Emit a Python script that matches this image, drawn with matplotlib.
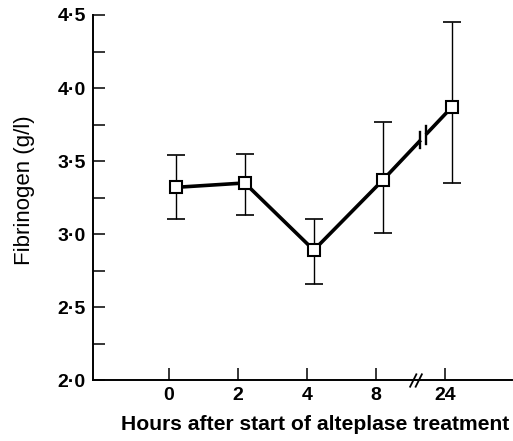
import numpy as np
from matplotlib import pyplot as plt
from matplotlib.ticker import MultipleLocator

# hours after start of treatment (categorical axis, 8 -> 24 is broken)
hours = ['0', '2', '4', '8', '24']
fib_mean = [3.32, 3.35, 2.89, 3.37, 3.87]
fib_upper = [3.54, 3.55, 3.10, 3.77, 4.45]
fib_lower = [3.10, 3.13, 2.66, 3.01, 3.35]

pos = np.arange(len(hours))
mean = np.array(fib_mean)
err = [mean - np.array(fib_lower), np.array(fib_upper) - mean]

plt.rcParams['font.family'] = ['Liberation Sans', 'DejaVu Sans']

fig = plt.figure(figsize=(5.13, 4.41), dpi=100)
ax = fig.add_axes([0.181, 0.138, 0.817, 0.828])

ax.errorbar(pos, mean, yerr=err, fmt='none', ecolor='black', elinewidth=1.0,
            capsize=6.5, capthick=1.2, zorder=2)
ax.plot(pos, mean, color='black', lw=2.6, zorder=3)
ax.plot(pos, mean, ls='none', marker='s', ms=8, mfc='white', mec='black',
        mew=1.5, zorder=4)

# break marks on the line between 8 and 24
bx = 3.58
by = mean[3] + (mean[4] - mean[3]) * (bx - 3)
ax.plot([bx - 0.03, bx + 0.04], [by - 0.018, by + 0.024], color='white',
        lw=5, zorder=3.5, solid_capstyle='butt')
ax.plot([bx - 0.035, bx - 0.035], [by - 0.07, by + 0.04], color='black', lw=1.7, zorder=3.6)
ax.plot([bx + 0.045, bx + 0.045], [by - 0.04, by + 0.08], color='black', lw=1.7, zorder=3.6)

# break marks on the x axis
for dx in (3.44, 3.52):
    ax.plot([dx - 0.045, dx + 0.045], [1.955, 2.04], color='black', lw=1.3,
            clip_on=False, zorder=5)

ax.set_xlim(-1.2, 4.87)
ax.set_ylim(2.0, 4.5)

ax.set_xticks(pos - 0.1)
ax.set_xticklabels(hours)
ax.yaxis.set_minor_locator(MultipleLocator(0.25))
yt = np.arange(2.0, 4.51, 0.5)
ax.set_yticks(yt)
ax.set_yticklabels([f'{v:.1f}'.replace('.', '\u00b7') for v in yt])

ax.tick_params(which='both', direction='in', length=8.5, width=1.1, color='black')
ax.tick_params(axis='x', labelsize=14, pad=5)
ax.tick_params(axis='y', labelsize=14, pad=5)
for lab in ax.get_xticklabels() + ax.get_yticklabels():
    lab.set_fontweight('bold')

for s in ('top', 'right'):
    ax.spines[s].set_visible(False)
for s in ('left', 'bottom'):
    ax.spines[s].set_linewidth(1.4)

ax.set_xlabel('Hours after start of alteplase treatment', fontsize=15.2,
              fontweight='bold')
ax.xaxis.set_label_coords(0.53, -0.095)
ax.set_ylabel('Fibrinogen (g/l)', fontsize=16)
ax.yaxis.set_label_coords(-0.138, 0.52)

fig.savefig('out.png', dpi=100)
